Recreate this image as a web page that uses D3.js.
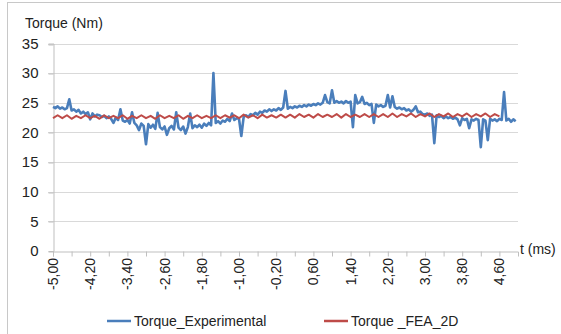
<!DOCTYPE html>
<html>
<head>
<meta charset="utf-8">
<script src="https://cdn.jsdelivr.net/npm/d3@7"></script>
<style>
  html, body { margin: 0; padding: 0; background: #fff; }
  svg { display: block; }
</style>
</head>
<body>
<div id="chart"></div>
<script>
// ---- data ----
const T_START = -5.0;
const EXP_STEP = 0.05;   // ms between experimental samples
const FEA_STEP = 0.1;    // ms between FEA samples

const torqueExperimental = [
  24.3, 24.1, 24.4, 24.0, 24.2, 23.9, 24.1, 25.6, 23.7, 23.9,
  23.5, 23.8, 23.2, 23.5, 23.1, 23.4, 22.2, 23.2, 22.7, 23.0,
  22.9, 22.6, 22.8, 22.4, 22.7, 22.3, 21.6, 22.5, 22.1, 23.9,
  22.0, 21.8, 22.1, 21.5, 23.4, 21.6, 21.2, 20.4, 21.5, 21.1,
  18.0, 21.4, 20.8, 21.3, 20.6, 23.3, 20.9, 20.5, 21.0, 19.6,
  20.7, 21.1, 20.5, 23.4, 20.8, 20.4, 21.0, 19.8, 20.9, 23.2,
  20.7, 21.2, 20.9, 21.3, 20.8, 21.5, 21.1, 21.6, 21.2, 30.0,
  21.6, 21.9, 21.5, 22.0, 21.8, 22.3, 21.9, 23.2, 22.1, 22.4,
  22.3, 19.4, 22.6, 22.9, 22.6, 23.1, 22.9, 23.3, 23.0, 23.5,
  23.3, 23.7, 23.5, 23.9, 23.6, 23.9, 23.7, 24.1, 23.8, 24.2,
  27.0, 24.0, 24.3, 24.1, 24.4, 24.2, 24.5, 24.3, 24.6, 24.4,
  24.7, 24.5, 24.8, 24.6, 24.9, 24.7, 25.0, 26.3, 25.1, 24.9,
  27.1, 25.0, 25.3, 25.0, 25.2, 24.9, 25.3, 25.0, 25.2, 20.9,
  26.3, 24.9, 25.1, 26.0, 24.8, 25.0, 24.6, 24.8, 21.6, 24.7,
  24.4, 24.6, 24.3, 24.5, 26.3, 24.2, 26.1, 24.3, 24.0, 24.2,
  23.9, 24.1, 23.7, 23.9, 23.5, 23.8, 24.4, 23.4, 23.5, 23.1,
  23.0, 23.2, 22.8, 23.0, 18.2, 22.9, 22.6, 22.8, 22.4, 22.7,
  22.4, 22.6, 22.3, 22.5, 22.2, 21.2, 22.4, 22.1, 22.3, 20.7,
  22.2, 22.0, 22.3, 22.1, 17.5, 22.2, 22.0, 18.7, 22.3, 22.0,
  22.2, 21.9, 22.3, 22.1, 26.8, 22.0, 22.3, 21.8, 22.2, 21.9
];

const torqueFEA = [
  22.4, 22.9, 22.4, 22.9, 22.3, 22.8, 22.4, 22.9, 22.4, 22.8,
  22.3, 22.9, 22.4, 22.8, 22.4, 22.9, 22.3, 22.8, 22.4, 22.9,
  22.4, 22.8, 22.3, 22.9, 22.4, 22.8, 22.4, 22.9, 22.3, 22.8,
  22.4, 22.9, 22.4, 22.8, 22.4, 22.9, 22.4, 22.9, 22.5, 22.9,
  22.4, 23.0, 22.5, 22.9, 22.4, 23.0, 22.5, 22.9, 22.5, 23.0,
  22.5, 23.0, 22.5, 23.1, 22.6, 23.0, 22.5, 23.1, 22.6, 23.0,
  22.6, 23.1, 22.5, 23.1, 22.6, 23.0, 22.6, 23.1, 22.6, 23.1,
  22.6, 23.1, 22.6, 23.2, 22.6, 23.1, 22.7, 23.2, 22.6, 23.1,
  22.7, 23.2, 22.6, 23.1, 22.7, 23.2, 22.6, 23.1, 22.7, 23.2,
  22.6, 23.1, 22.7, 23.2, 22.6, 23.1, 22.7
];

const xTickLabels = ['-5,00', '-4,20', '-3,40', '-2,60', '-1,80', '-1,00', '-0,20',
                     '0,60', '1,40', '2,20', '3,00', '3,80', '4,60'];
const yTicks = [0, 5, 10, 15, 20, 25, 30, 35];
const seriesNames = ['Torque_Experimental', 'Torque _FEA_2D'];
const seriesColors = ['#4a7ebb', '#be4b48'];

// ---- layout ----
const width = 561, height = 334;
const FONT = 'Liberation Sans, Arial, sans-serif';

const svg = d3.select('#chart').append('svg')
  .attr('width', width)
  .attr('height', height);

// outer chart frame (only left/top edges visible)
svg.append('rect')
  .attr('x', 7.5).attr('y', 2.5)
  .attr('width', 600).attr('height', 400)
  .attr('fill', 'none')
  .attr('stroke', '#c8c8c8');

const x = d3.scaleLinear().domain([-5, 5]).range([53, 518]);
const y = d3.scaleLinear().domain([0, 35]).range([251, 43.5]);

// gridlines
svg.append('g')
  .selectAll('line')
  .data(yTicks.filter(d => d > 0))
  .join('line')
  .attr('x1', 48).attr('x2', 518)
  .attr('y1', d => Math.round(y(d)) + 0.5)
  .attr('y2', d => Math.round(y(d)) + 0.5)
  .attr('stroke', '#d9d9d9');

// y axis
const yAxis = svg.append('g')
  .attr('transform', `translate(${Math.round(x(-5)) + 0.5},0)`)
  .call(d3.axisLeft(y).tickValues(yTicks).tickSize(5).tickFormat(d3.format('d')));
yAxis.select('.domain').attr('stroke', '#bfbfbf');
yAxis.selectAll('.tick line').attr('stroke', '#bfbfbf')
  .attr('transform', d => `translate(0,${Math.round(y(d)) + 0.5 - y(d)})`);
yAxis.selectAll('.tick text')
  .attr('x', -15)
  .attr('font-family', FONT)
  .attr('font-size', 15)
  .attr('fill', '#222');

// x axis: minor ticks every 0.4 ms, labels every 0.8 ms
const xTickValues = d3.range(0, 25).map(i => T_START + i * 0.4);
const xAxis = svg.append('g')
  .attr('transform', `translate(0,${Math.round(y(0)) + 0.5})`)
  .call(d3.axisBottom(x).tickValues(xTickValues).tickSize(5).tickFormat(''));
xAxis.select('.domain').attr('stroke', '#bfbfbf');
xAxis.selectAll('.tick line').attr('stroke', '#bfbfbf');

svg.append('g')
  .selectAll('text')
  .data(xTickLabels)
  .join('text')
  .attr('transform', (d, i) => `translate(${x(T_START + i * 0.8) + 5},${y(0) + 7}) rotate(-90)`)
  .attr('text-anchor', 'end')
  .attr('font-family', FONT)
  .attr('font-size', 14)
  .attr('fill', '#222')
  .text(d => d);

// axis titles
svg.append('text')
  .attr('x', 25).attr('y', 28)
  .attr('font-family', FONT).attr('font-size', 14).attr('fill', '#222')
  .text('Torque (Nm)');
svg.append('text')
  .attr('x', 520).attr('y', 254)
  .attr('font-family', FONT).attr('font-size', 14).attr('fill', '#222')
  .text('t (ms)');

// series
const line = d3.line().x(d => x(d[0])).y(d => y(d[1]));
const expPts = torqueExperimental.map((v, i) => [T_START + i * EXP_STEP, v]);
const feaPts = torqueFEA.map((v, i) => [T_START + i * FEA_STEP, v]);

svg.append('path')
  .datum(expPts)
  .attr('d', line)
  .attr('fill', 'none')
  .attr('stroke', seriesColors[0])
  .attr('stroke-width', 2.6)
  .attr('stroke-linejoin', 'round');

svg.append('path')
  .datum(feaPts)
  .attr('d', line)
  .attr('fill', 'none')
  .attr('stroke', seriesColors[1])
  .attr('stroke-width', 2)
  .attr('stroke-linejoin', 'round');

// legend
const legendX = [107, 324];
const legend = svg.append('g');
seriesNames.forEach((name, i) => {
  legend.append('line')
    .attr('x1', legendX[i]).attr('x2', legendX[i] + 24)
    .attr('y1', 321).attr('y2', 321)
    .attr('stroke', seriesColors[i])
    .attr('stroke-width', 2.5);
  legend.append('text')
    .attr('x', legendX[i] + 27).attr('y', 326)
    .attr('font-family', FONT).attr('font-size', 14).attr('fill', '#222')
    .text(name);
});
</script>
</body>
</html>
